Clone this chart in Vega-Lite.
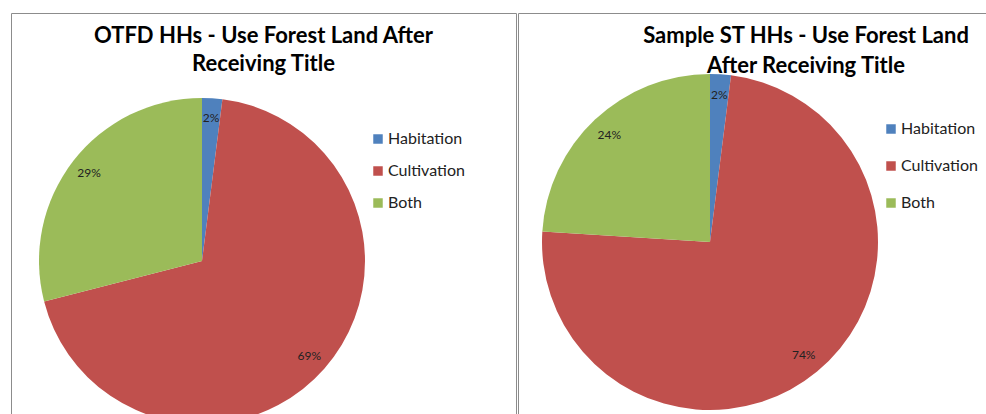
{
  "$schema": "https://vega.github.io/schema/vega-lite/v6.json",
  "padding": {"left": 10, "top": 12, "right": 0, "bottom": 0},
  "background": "white",
  "datasets": {
    "otfd": [
      {"use": "Habitation", "share": 0.02},
      {"use": "Cultivation", "share": 0.69},
      {"use": "Both", "share": 0.29}
    ],
    "st": [
      {"use": "Habitation", "share": 0.02},
      {"use": "Cultivation", "share": 0.74},
      {"use": "Both", "share": 0.24}
    ]
  },
  "config": {
    "view": {"stroke": "#8c8c8c", "strokeWidth": 1},
    "title": {"font": "Lato", "fontSize": 22, "fontWeight": "bold", "color": "#000000", "lineHeight": 28, "anchor": "middle", "baseline": "top", "offset": -63}
  },
  "spacing": 0,
  "hconcat": [
    {
      "width": 505,
      "height": 401,
      "view": {"stroke": "#8c8c8c", "strokeWidth": 1},
      "title": {"text": ["OTFD HHs - Use Forest Land After", "Receiving Title"]},
      "data": {"name": "otfd"},
      "encoding": {
        "theta": {"field": "share", "type": "quantitative", "stack": true},
        "order": {"field": "use", "sort": "descending"}
      },
      "layer": [
        {
          "mark": {"type": "arc", "x": 191, "y": 248, "outerRadius": 163, "clip": true},
          "encoding": {
            "color": {"field": "use", "type": "nominal",
              "scale": {"domain": ["Habitation", "Cultivation", "Both"], "range": ["#4F81BD", "#C0504D", "#9BBB59"]},
              "legend": {"orient": "none", "legendX": 359, "legendY": 118, "title": null, "symbolType": "square", "symbolSize": 90, "symbolStrokeWidth": 0, "labelFont": "Lato", "labelFontSize": 16, "labelColor": "#222222", "rowPadding": 16, "labelOffset": 2}
            }
          }
        },
        {
          "mark": {"type": "text", "x": 191, "y": 248, "radius": 143, "font": "Lato", "fontSize": 12, "fill": "#222222"},
          "encoding": {
            "detail": {"field": "use", "type": "nominal"},
            "text": {"field": "share", "type": "quantitative", "format": ".0%"}
          }
        }
      ]
    },
    {
      "width": 470,
      "height": 401,
      "view": {"stroke": "#8c8c8c", "strokeWidth": 1},
      "title": {"text": ["Sample ST HHs - Use Forest Land", "After Receiving Title"], "dx": 53, "lineHeight": 30, "offset": -65},
      "data": {"name": "st"},
      "encoding": {
        "theta": {"field": "share", "type": "quantitative", "stack": true},
        "order": {"field": "use", "sort": "descending"}
      },
      "layer": [
        {
          "mark": {"type": "arc", "x": 192, "y": 229, "outerRadius": 168, "clip": true},
          "encoding": {
            "color": {"field": "use", "type": "nominal",
              "scale": {"domain": ["Habitation", "Cultivation", "Both"], "range": ["#4F81BD", "#C0504D", "#9BBB59"]},
              "legend": {"orient": "none", "legendX": 365, "legendY": 108, "title": null, "symbolType": "square", "symbolSize": 90, "symbolStrokeWidth": 0, "labelFont": "Lato", "labelFontSize": 16, "labelColor": "#222222", "rowPadding": 21, "labelOffset": 2}
            }
          }
        },
        {
          "mark": {"type": "text", "x": 192, "y": 229, "radius": 147, "font": "Lato", "fontSize": 12, "fill": "#222222"},
          "encoding": {
            "detail": {"field": "use", "type": "nominal"},
            "text": {"field": "share", "type": "quantitative", "format": ".0%"}
          }
        }
      ]
    }
  ],
  "resolve": {"scale": {"color": "independent"}}
}
